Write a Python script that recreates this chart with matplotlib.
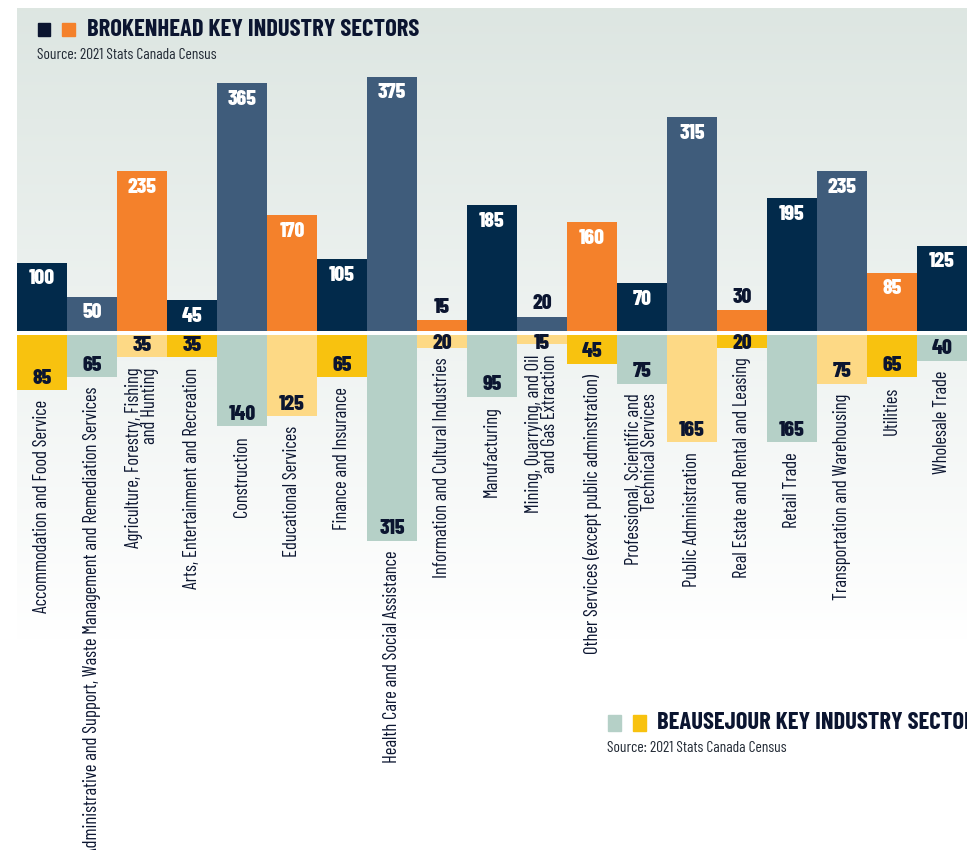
import numpy as np
import matplotlib.pyplot as plt
from matplotlib.patches import Rectangle

# Brokenhead (up) vs Beausejour (down), 2021 Stats Canada Census
sectors = [
    "Accommodation and Food Service",
    "Administrative and Support, Waste Management and Remediation Services",
    "Agriculture, Forestry, Fishing\nand Hunting",
    "Arts, Entertainment and Recreation",
    "Construction",
    "Educational Services",
    "Finance and Insurance",
    "Health Care and Social Assistance",
    "Information and Cultural Industries",
    "Manufacturing",
    "Mining, Quarrying, and Oil\nand Gas Extraction",
    "Other Services (except public adminstration)",
    "Professional, Scientific and\nTechnical Services",
    "Public Administration",
    "Real Estate and Rental and Leasing",
    "Retail Trade",
    "Transportation and Warehousing",
    "Utilities",
    "Wholesale Trade",
]
brokenhead = [100, 50, 235, 45, 365, 170, 105, 375, 15, 185, 20, 160, 70, 315, 30, 195, 235, 85, 125]
beausejour = [85, 65, 35, 35, 140, 125, 65, 315, 20, 95, 15, 45, 75, 165, 20, 165, 75, 65, 40]

NAVY = "#022a4b"
SLATE = "#3f5c7b"
ORANGE = "#f4812b"
GOLD = "#f8c20f"
SAGE = "#b5d0c7"
LYEL = "#fdd985"
INK = "#0b1530"

top_colors = [NAVY, SLATE, ORANGE, NAVY, SLATE, ORANGE, NAVY, SLATE, ORANGE, NAVY,
              SLATE, ORANGE, NAVY, SLATE, ORANGE, NAVY, SLATE, ORANGE, NAVY]
bottom_colors = [GOLD, SAGE, LYEL, GOLD, SAGE, LYEL, GOLD, SAGE, LYEL, SAGE,
                 LYEL, GOLD, SAGE, LYEL, GOLD, SAGE, LYEL, GOLD, SAGE]

plt.rcParams["font.family"] = ["Barlow Condensed", "DejaVu Sans"]

W, H = 967, 850


def fx(px):
    return px / W


def fy(py):
    return 1 - py / H


fig = plt.figure(figsize=(W / 100, H / 100), dpi=100)

# gradient background
bg = fig.add_axes([fx(17), fy(640), fx(950), 632 / H], zorder=0)
c0 = np.array([0.867, 0.902, 0.886])
c1 = np.array([1.0, 1.0, 1.0])
t = np.linspace(0, 1, 256)[:, None]
grad = c0 * (1 - t) + c1 * t
bg.imshow(grad[:, None, :], aspect="auto", extent=[0, 1, 0, 1], origin="upper")
bg.axis("off")

x = np.arange(len(sectors))
s_top = 0.677  # px per unit
s_bot = 0.654
base_top = 330.5
base_bot = 334.5

ax = fig.add_axes([fx(17), fy(base_top), fx(950), 420 * s_top / H], zorder=2)
ax.set_xlim(-0.5, len(sectors) - 0.5)
ax.set_ylim(0, 420)
ax.bar(x, brokenhead, width=1.0, color=top_colors, linewidth=0)
for i, v in enumerate(brokenhead):
    if v * s_top >= 25:
        ax.text(i, v - 16 / s_top, str(v), ha="center", va="center", color="white",
                fontsize=15.5, fontweight=800)
    else:
        ax.text(i, v + 13 / s_top, str(v), ha="center", va="center", color=INK,
                fontsize=15.5, fontweight=800)
ax.axis("off")

bot_h = H - base_bot
ax2 = fig.add_axes([fx(17), 0, fx(950), bot_h / H], zorder=2)
ax2.set_xlim(-0.5, len(sectors) - 0.5)
ax2.set_ylim(-bot_h / s_bot, 0)
ax2.bar(x, [-v for v in beausejour], width=1.0, color=bottom_colors, linewidth=0)
for i, v in enumerate(beausejour):
    d = max(v * s_bot - 12, 9) / s_bot
    ax2.text(i, -d, str(v), ha="center", va="center", color=INK,
             fontsize=15.5, fontweight=800)
    ax2.text(i, -v - 10 / s_bot, sectors[i], rotation=90, ha="center", va="top",
             multialignment="right", color=INK, fontsize=13.4, linespacing=0.8)
ax2.axis("off")

# white gap between the two halves
fig.patches.append(Rectangle((fx(17), fy(base_bot)), fx(950), 4 / H,
                             transform=fig.transFigure, color="white", zorder=1))

# Brokenhead legend / title
fig.patches.append(Rectangle((fx(38), fy(36)), fx(12), 13 / H, transform=fig.transFigure,
                             color=INK, zorder=3))
fig.patches.append(Rectangle((fx(62), fy(36)), fx(13), 13 / H, transform=fig.transFigure,
                             color=ORANGE, zorder=3))
fig.text(fx(87), fy(30), "BROKENHEAD KEY INDUSTRY SECTORS", ha="left", va="center",
         fontsize=17.7, fontweight="bold", color=INK, zorder=3)
fig.text(fx(37), fy(55), "Source: 2021 Stats Canada Census", ha="left", va="center",
         fontsize=11.2, color="#222a35", zorder=3)

# Beausejour legend / title
fig.patches.append(Rectangle((fx(608), fy(731)), fx(13), 16 / H, transform=fig.transFigure,
                             color=SAGE, zorder=3))
fig.patches.append(Rectangle((fx(633), fy(731)), fx(13), 16 / H, transform=fig.transFigure,
                             color=GOLD, zorder=3))
fig.text(fx(657), fy(723), "BEAUSEJOUR KEY INDUSTRY SECTORS", ha="left", va="center",
         fontsize=17.7, fontweight="bold", color=INK, zorder=3)
fig.text(fx(607), fy(748), "Source: 2021 Stats Canada Census", ha="left", va="center",
         fontsize=11.2, color="#222a35", zorder=3)

fig.savefig("out.png", dpi=100)
